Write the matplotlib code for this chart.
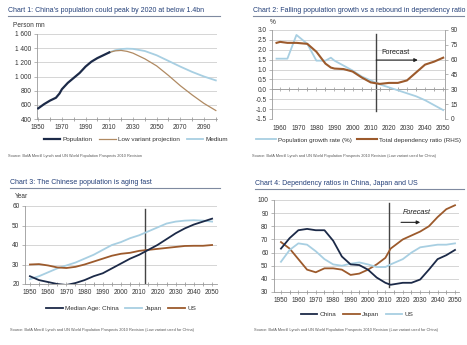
import matplotlib
matplotlib.use("Agg")
import matplotlib.pyplot as plt
from matplotlib import font_manager as fm
from matplotlib.lines import Line2D

# ---------------- data ----------------
# Chart 1: China population (mn)
pop_years = [1950, 1955, 1960, 1965, 1968, 1970, 1975, 1980, 1985, 1990, 1995, 2000, 2005, 2010]
pop_vals = [550, 610, 660, 700, 760, 820, 910, 980, 1050, 1140, 1210, 1260, 1300, 1340]
proj_years = [2010, 2015, 2020, 2025, 2030, 2040, 2050, 2060, 2070, 2080, 2090, 2100]
low_vals = [1340, 1362, 1368, 1355, 1330, 1250, 1150, 1015, 870, 740, 620, 520]
med_vals = [1340, 1370, 1387, 1393, 1390, 1360, 1300, 1220, 1140, 1065, 1000, 945]

# Chart 2: growth rate (%) and total dependency ratio (RHS)
c2_years = [1958, 1960, 1964, 1969, 1975, 1980, 1985, 1988, 1990, 1995, 2000, 2005, 2010,
            2015, 2020, 2025, 2030, 2035, 2040, 2045, 2050]
growth = [1.55, 1.55, 1.55, 2.75, 2.3, 1.45, 1.45, 1.6, 1.45, 1.2, 0.95, 0.65, 0.45,
          0.25, 0.1, -0.05, -0.2, -0.35, -0.55, -0.8, -1.05]
dep_ratio = [77, 78, 77, 77, 76, 68, 56, 52, 51, 50.5, 48, 42, 37,
             35.5, 36.5, 36.5, 39, 47, 55, 58, 62]

# Chart 3: median age
age_years = [1950, 1955, 1960, 1965, 1970, 1975, 1980, 1985, 1990, 1995, 2000,
             2005, 2010, 2015, 2020, 2025, 2030, 2035, 2040, 2045, 2050]
age_china = [24, 22, 21, 20, 19.5, 20.5, 22, 24, 25.5, 28, 30.5,
             33, 35, 37.5, 40, 43, 46, 48.5, 50.5, 52, 53.5]
age_japan = [22.5, 24, 26, 28, 29.5, 31, 33, 35, 37.5, 40, 41.5,
             43.5, 45, 47, 49, 51, 52, 52.5, 52.7, 52.5, 52]
age_us = [30, 30.2, 29.5, 28.5, 28.2, 28.8, 30, 31.5, 33, 34.5, 35.5,
          36, 37, 37.5, 38, 38.5, 39, 39.5, 39.6, 39.6, 40]

# Chart 4: dependency ratios
dep_years = [1950, 1955, 1960, 1965, 1970, 1975, 1980, 1985, 1990, 1995, 2000,
             2005, 2010, 2013, 2020, 2025, 2030, 2035, 2040, 2045, 2050]
dep_china = [63, 71, 77, 78, 77, 77, 69, 57, 51, 50.5, 47,
             41, 37, 35.5, 37, 37, 39.5, 47, 55, 58, 62]
dep_japan = [68, 63, 55, 47, 45, 48, 48, 47, 43, 44, 47,
             51, 56, 63, 70, 73, 76, 80, 87, 93, 96]
dep_us = [53, 62, 67, 66, 61, 55, 51, 50, 51.5, 52.5, 51,
          49, 49, 51, 55, 60, 64, 65, 66, 66, 67]

forecast_year = 2013

titles = [
    "Chart 1: China\u2019s population could peak by 2020 at below 1.4bn",
    "Chart 2: Falling population growth vs a rebound in dependency ratio",
    "Chart 3: The Chinese population is aging fast",
    "Chart 4: Dependency ratios in China, Japan and US",
]
src1 = "Source: BofA Merrill Lynch and UN World Population Prospects 2010 Revision"
src2 = "Source: BofA Merrill Lynch and UN World Population Prospects 2010 Revision (Low variant used for China)"

# ---------------- style ----------------
names = {f.name for f in fm.fontManager.ttflist}
fam = ["Liberation Sans Narrow", "Liberation Sans", "DejaVu Sans"]
fam = [f for f in fam if f in names] or ["DejaVu Sans"]
plt.rcParams["font.family"] = fam

NAVY = "#1c2a48"
BROWN = "#9c5a2c"
LBROWN = "#b08a62"
LBLUE = "#a8cfe2"
GRID = "#cfcfcf"
SPINE = "#9a9a9a"
TCOL = "#233f78"
TXT = "#333333"

TICK_FS = 4.7
LEG_FS = 4.6
SRC_FS = 2.75
TITLE_FS = 5.0

W, H = 467, 345
fig = plt.figure(figsize=(W / 100, H / 100), dpi=100)


def box(l, t, r, b):
    return [l / W, 1 - b / H, (r - l) / W, (b - t) / H]


def fx(x):
    return x / W


def fy(y):
    return 1 - y / H


def header(title, x0, x1, y):
    fig.text(fx(x0), fy(y), title, fontsize=TITLE_FS, color=TCOL, va="baseline", ha="left")
    fig.add_artist(Line2D([fx(x0), fx(x1)], [fy(y + 3.5), fy(y + 3.5)],
                          color="#7f8aa0", lw=0.8))


def style_axes(ax, yticks):
    for s in ["top", "right"]:
        ax.spines[s].set_visible(False)
    ax.spines["left"].set_color(SPINE)
    ax.spines["bottom"].set_color(SPINE)
    ax.spines["left"].set_linewidth(0.6)
    ax.spines["bottom"].set_linewidth(0.6)
    ax.set_yticks(yticks)
    ax.yaxis.grid(True, color=GRID, lw=0.6)
    ax.set_axisbelow(True)
    ax.tick_params(axis="both", labelsize=TICK_FS, colors=TXT, length=2, width=0.5, pad=2)
    ax.tick_params(axis="both", which="both", color=SPINE)
    ax.tick_params(axis="x", which="both", direction="inout", length=3)


def legend(ax, y_off, x=0.5):
    ax.legend(loc="upper center", bbox_to_anchor=(x, y_off), ncol=3, frameon=False,
              fontsize=LEG_FS, handlelength=2.6, handletextpad=0.4, columnspacing=1.0,
              borderpad=0, labelcolor=TXT)


# ---------------- Chart 1 ----------------
header(titles[0], 8, 220, 12)
ax1 = fig.add_axes(box(37, 34, 217, 119))
ax1.plot(pop_years, pop_vals, color=NAVY, lw=1.6, label="Population", zorder=4)
ax1.plot(proj_years, low_vals, color=LBROWN, lw=0.9, label="Low variant projection", zorder=3)
ax1.plot(proj_years, med_vals, color=LBLUE, lw=1.3, label="Medium", zorder=2)
ax1.set_xlim(1949, 2101)
ax1.set_ylim(400, 1600)
style_axes(ax1, range(400, 1601, 200))
ax1.set_yticklabels([f"{v // 1000} {v % 1000:03d}" if v >= 1000 else str(v)
                     for v in range(400, 1601, 200)])
ax1.set_xticks(range(1950, 2091, 20))
ax1.set_xticks(range(1950, 2101, 10), minor=True)
ax1.tick_params(axis="x", which="minor", direction="inout", length=3, color=SPINE)
fig.text(fx(13), fy(27), "Person mn", fontsize=TICK_FS, color=TXT, va="baseline")
legend(ax1, -0.17, x=0.55)
fig.text(fx(8), fy(157), src1, fontsize=SRC_FS, color="#555555")

# ---------------- Chart 2 ----------------
header(titles[1], 253, 464, 12)
ax2 = fig.add_axes(box(272, 30, 445, 119))
ax2r = ax2.twinx()
ax2.plot(c2_years, growth, color=LBLUE, lw=1.3, label="Population growth rate (%)", zorder=3)
ax2r.plot(c2_years, dep_ratio, color=BROWN, lw=1.5, label="Total dependency ratio (RHS)", zorder=3)
ax2.set_xlim(1955.5, 2051)
ax2.set_ylim(-1.5, 3.0)
ax2r.set_ylim(0, 90)
style_axes(ax2, [x / 2 for x in range(-3, 7)])
ax2.set_yticklabels([f"{x / 2:.1f}" for x in range(-3, 7)])
ax2.spines["bottom"].set_position(("data", 0))
ax2.set_xticks(range(1960, 2051, 10))
ax2.set_xticks(range(1960, 2051, 5), minor=True)
ax2.tick_params(axis="x", which="both", labelbottom=False, direction="inout",
                length=3, color=SPINE)
ax2.spines["bottom"].set_color(SPINE)
sec = ax2.secondary_xaxis("bottom")
sec.set_xticks(range(1960, 2051, 10))
sec.tick_params(length=0, labelsize=TICK_FS, colors=TXT, pad=4)
sec.spines["bottom"].set_visible(False)
for s in ["top", "left", "bottom"]:
    ax2r.spines[s].set_visible(False)
ax2r.spines["right"].set_color(SPINE)
ax2r.spines["right"].set_linewidth(0.6)
ax2r.set_yticks(range(0, 91, 15))
ax2r.tick_params(labelsize=TICK_FS, colors=TXT, length=2, width=0.5, pad=2)
ax2r.tick_params(color=SPINE)
ax2.axvline(forecast_year, ymin=(-1.1 + 1.5) / 4.5, ymax=(2.8 + 1.5) / 4.5,
            color="#444444", lw=1.0)
ax2.annotate("", xy=(2036, 1.48), xytext=(forecast_year, 1.48),
             arrowprops=dict(arrowstyle="-|>", color="#222222", lw=0.8,
                             mutation_scale=5, shrinkA=0, shrinkB=0))
ax2.text(2016, 1.8, "Forecast", fontsize=5.2, color="#222222")
fig.text(fx(270), fy(24), "%", fontsize=TICK_FS, color=TXT, va="baseline")
h1, l1 = ax2.get_legend_handles_labels()
h2, l2 = ax2r.get_legend_handles_labels()
ax2.legend(h1 + h2, l1 + l2, loc="upper center", bbox_to_anchor=(0.5, -0.17), ncol=2,
           frameon=False, fontsize=4.5, handlelength=3.2, handletextpad=0.4,
           columnspacing=0.8, borderpad=0, labelcolor=TXT)
fig.text(fx(252), fy(157), src2, fontsize=SRC_FS, color="#555555")

# ---------------- Chart 3 ----------------
header(titles[2], 10, 220, 184)
ax3 = fig.add_axes(box(25, 206, 217, 284))
ax3.plot(age_years, age_china, color=NAVY, lw=1.3, label="Median Age: China", zorder=4)
ax3.plot(age_years, age_japan, color=LBLUE, lw=1.3, label="Japan", zorder=3)
ax3.plot(age_years, age_us, color=BROWN, lw=1.3, label="US", zorder=3)
ax3.set_xlim(1947.3, 2052.7)
ax3.set_ylim(20, 60)
style_axes(ax3, range(20, 61, 10))
ax3.set_xticks(range(1950, 2051, 10))
ax3.set_xticks(range(1950, 2051, 5), minor=True)
ax3.tick_params(axis="x", which="minor", direction="inout", length=3, color=SPINE)
ax3.axvline(forecast_year, ymin=0, ymax=0.96, color="#444444", lw=1.0)
fig.text(fx(15), fy(198), "Year", fontsize=TICK_FS, color=TXT, va="baseline")
legend(ax3, -0.24)
fig.text(fx(10), fy(331), src2, fontsize=SRC_FS, color="#555555")

# ---------------- Chart 4 ----------------
header(titles[3], 255, 464, 185)
ax4 = fig.add_axes(box(274, 200, 459, 292))
ax4.plot(dep_years, dep_china, color=NAVY, lw=1.3, label="China", zorder=4)
ax4.plot(dep_years, dep_japan, color=BROWN, lw=1.3, label="Japan", zorder=3)
ax4.plot(dep_years, dep_us, color=LBLUE, lw=1.3, label="US", zorder=3)
ax4.set_xlim(1946, 2052.3)
ax4.set_ylim(30, 100)
style_axes(ax4, range(30, 101, 10))
ax4.set_xticks(range(1950, 2051, 10))
ax4.set_xticks(range(1950, 2051, 5), minor=True)
ax4.tick_params(axis="x", which="minor", direction="inout", length=3, color=SPINE)
ax4.axvline(2012, ymin=(34 - 30) / 70, ymax=(98 - 30) / 70, color="#444444", lw=1.0)
ax4.annotate("", xy=(2030, 83), xytext=(2019, 83),
             arrowprops=dict(arrowstyle="-|>", color="#222222", lw=0.8,
                             mutation_scale=5, shrinkA=0, shrinkB=0))
ax4.text(2020, 89, "Forecast", fontsize=5.2, color="#222222", style="italic")
legend(ax4, -0.18, x=0.45)
fig.text(fx(254), fy(331), src2, fontsize=SRC_FS, color="#555555")

fig.savefig("out.png", dpi=100, facecolor="white")
